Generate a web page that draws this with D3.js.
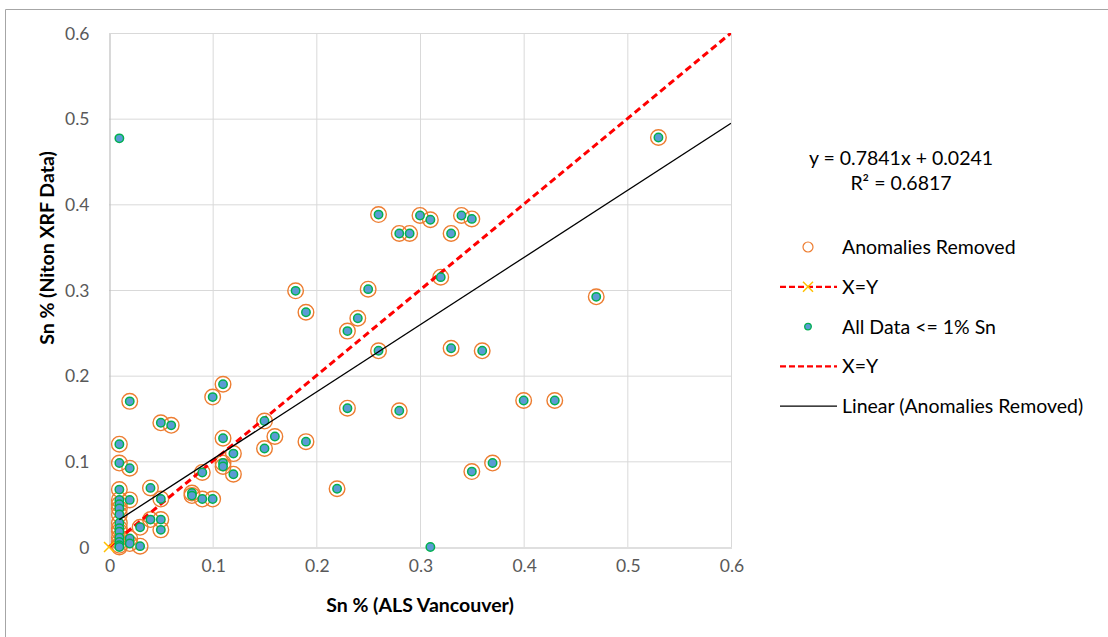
<!DOCTYPE html>
<html lang="en">
<head>
  <meta charset="UTF-8" />
  <title>Sn % ALS vs Niton XRF</title>
  <script src="https://d3js.org/d3.v7.min.js"></script>
  <style>
    body {
      margin: 0;
      background: #fff;
      font-family: Lato, "Open Sans", sans-serif;
      overflow: hidden;
    }
    .tick text {
      fill: #595959;
      font-size: 17.5px;
    }
    .grid line {
      stroke: #d9d9d9;
      stroke-width: 1;
    }
    .axis-title {
      font-size: 19.5px;
      font-weight: bold;
      fill: #000;
    }
    .legend text {
      font-size: 19.5px;
      fill: #000;
    }
  </style>
</head>
<body>
  <script>
    // Anomalies Removed series (x = ALS Vancouver, y = Niton XRF)
    const anomX = [
      0.53, 0.47, 0.40, 0.43, 0.37, 0.35, 0.36, 0.33, 0.32,
      0.26, 0.30, 0.31, 0.34, 0.35, 0.28, 0.29, 0.33,
      0.25, 0.24, 0.23, 0.26, 0.23, 0.28,
      0.18, 0.19, 0.11, 0.10, 0.15, 0.11, 0.16, 0.15, 0.19, 0.12, 0.22,
      0.02, 0.05, 0.06, 0.01, 0.01, 0.02, 0.11, 0.11, 0.12, 0.09,
      0.04, 0.05, 0.08, 0.08, 0.09, 0.10,
      0.01, 0.01, 0.02, 0.01, 0.01, 0.01, 0.04, 0.05, 0.05, 0.03,
      0.01, 0.01, 0.01, 0.01, 0.01, 0.01, 0.01, 0.02, 0.02, 0.03
    ];
    const anomY = [
      0.478, 0.292, 0.171, 0.171, 0.098, 0.088, 0.229, 0.232, 0.315,
      0.388, 0.387, 0.382, 0.387, 0.383, 0.366, 0.366, 0.366,
      0.301, 0.267, 0.252, 0.229, 0.162, 0.159,
      0.299, 0.274, 0.190, 0.175, 0.147, 0.127, 0.129, 0.115, 0.123, 0.109, 0.068,
      0.170, 0.145, 0.142, 0.120, 0.098, 0.092, 0.098, 0.094, 0.085, 0.087,
      0.069, 0.056, 0.063, 0.060, 0.056, 0.056,
      0.067, 0.055, 0.055, 0.050, 0.045, 0.038, 0.032, 0.032, 0.020, 0.023,
      0.028, 0.022, 0.018, 0.011, 0.006, 0.002, 0.000, 0.010, 0.004, 0.001
    ];
    // Points present only in "All Data <= 1% Sn"
    const outlierX = [0.01, 0.31];
    const outlierY = [0.477, 0.000];

    // X=Y reference line
    const xyX = [0, 1];
    const xyY = [0, 1];

    // Linear trendline of anomalies removed
    const trendSlope = 0.7841;
    const trendIntercept = 0.0241;
    const trendR2 = 0.6817;

    const ticks = [0, 0.1, 0.2, 0.3, 0.4, 0.5, 0.6];

    const width = 1108, height = 637;
    const plot = { left: 109, right: 731, top: 33, bottom: 547 };

    const svg = d3.select("body").append("svg")
      .attr("width", width)
      .attr("height", height);

    // chart frame (top and left edges visible)
    svg.append("path")
      .attr("d", `M5.5,${height + 2} V9.5 H${width + 2}`)
      .attr("fill", "none")
      .attr("stroke", "#a6a6a6")
      .attr("stroke-width", 1);

    const x = d3.scaleLinear().domain([0, 0.6]).range([plot.left, plot.right]);
    const y = d3.scaleLinear().domain([0, 0.6]).range([plot.bottom, plot.top]);

    svg.append("defs").append("clipPath").attr("id", "clip")
      .append("rect")
      .attr("x", plot.left - 10).attr("y", plot.top)
      .attr("width", plot.right - plot.left + 10)
      .attr("height", plot.bottom - plot.top + 10);

    // gridlines
    svg.append("g").attr("class", "grid")
      .selectAll("line.v").data(ticks.slice(1)).join("line")
      .attr("x1", d => x(d) + 0.5).attr("x2", d => x(d) + 0.5)
      .attr("y1", plot.top).attr("y2", plot.bottom);
    svg.append("g").attr("class", "grid")
      .selectAll("line.h").data(ticks.slice(1)).join("line")
      .attr("x1", plot.left).attr("x2", plot.right)
      .attr("y1", d => y(d) + 0.5).attr("y2", d => y(d) + 0.5);

    // axes
    const fmt = d => d === 0 ? "0" : d3.format(".1f")(d);
    const xAxis = svg.append("g")
      .attr("transform", `translate(0.5,${plot.bottom + 0.5})`)
      .call(d3.axisBottom(x).tickValues(ticks).tickSize(0).tickPadding(12).tickFormat(fmt));
    const yAxis = svg.append("g")
      .attr("transform", `translate(${plot.left + 0.5},0.5)`)
      .call(d3.axisLeft(y).tickValues(ticks).tickSize(0).tickPadding(20).tickFormat(fmt));
    [xAxis, yAxis].forEach(a => {
      a.select(".domain").attr("stroke", "#bfbfbf").attr("stroke-width", 1.2);
      a.selectAll(".tick text").attr("font-family", "Lato, sans-serif");
    });

    // axis titles
    svg.append("text").attr("class", "axis-title")
      .attr("x", (plot.left + plot.right) / 2).attr("y", 612)
      .attr("text-anchor", "middle")
      .text("Sn % (ALS Vancouver)");
    svg.append("text").attr("class", "axis-title")
      .attr("transform", `translate(54,${(plot.top + plot.bottom) / 2 - 42}) rotate(-90)`)
      .attr("text-anchor", "middle")
      .text("Sn % (Niton XRF Data)");

    const chart = svg.append("g").attr("clip-path", "url(#clip)");

    // anomalies removed: hollow orange circles
    const anom = anomX.map((v, i) => [v, anomY[i]]);
    const all = anom.concat(outlierX.map((v, i) => [v, outlierY[i]]));

    chart.selectAll("circle.anom").data(anom).join("circle")
      .attr("class", "anom")
      .attr("cx", d => x(d[0])).attr("cy", d => y(d[1]))
      .attr("r", 7.8)
      .attr("fill", "none")
      .attr("stroke", "#ed7d31")
      .attr("stroke-width", 1.4);

    // X=Y line with marker
    const line = d3.line().x(d => x(d[0])).y(d => y(d[1]));
    const xy = xyX.map((v, i) => [v, xyY[i]]);
    chart.append("path").datum(xy)
      .attr("d", line)
      .attr("fill", "none")
      .attr("stroke", "#ff0000")
      .attr("stroke-width", 3)
      .attr("stroke-dasharray", "7,4");
    chart.selectAll("path.xmark").data(xy).join("path")
      .attr("class", "xmark")
      .attr("transform", d => `translate(${x(d[0])},${y(d[1])})`)
      .attr("d", "M-5,-5L5,5M-5,5L5,-5")
      .attr("stroke", "#ffc000")
      .attr("stroke-width", 1.5);

    // all data points
    chart.selectAll("circle.all").data(all).join("circle")
      .attr("class", "all")
      .attr("cx", d => x(d[0])).attr("cy", d => y(d[1]))
      .attr("r", 4.2)
      .attr("fill", "#5b9bd5")
      .attr("stroke", "#00b050")
      .attr("stroke-width", 1.5);

    // linear trendline
    const trendX = [d3.min(anomX), 0.6];
    chart.append("path")
      .datum(trendX.map(v => [v, trendSlope * v + trendIntercept]))
      .attr("d", line)
      .attr("fill", "none")
      .attr("stroke", "#000")
      .attr("stroke-width", 1.3);

    // trendline equation
    const eq = svg.append("g").attr("class", "legend");
    eq.append("text").attr("x", 901).attr("y", 165).attr("text-anchor", "middle")
      .text(`y = ${trendSlope}x + ${trendIntercept}`);
    eq.append("text").attr("x", 901).attr("y", 190).attr("text-anchor", "middle")
      .text(`R² = ${trendR2}`);

    // legend
    const legendItems = [
      { label: "Anomalies Removed", type: "ring" },
      { label: "X=Y", type: "dashX" },
      { label: "All Data <= 1% Sn", type: "dot" },
      { label: "X=Y", type: "dash" },
      { label: "Linear (Anomalies Removed)", type: "solid" }
    ];
    const lg = svg.append("g").attr("class", "legend");
    const row = lg.selectAll("g").data(legendItems).join("g")
      .attr("transform", (d, i) => `translate(0,${247 + i * 39.8})`);
    row.each(function(d) {
      const r = d3.select(this);
      if (d.type === "ring") {
        r.append("circle").attr("cx", 808).attr("cy", 0).attr("r", 5)
          .attr("fill", "none").attr("stroke", "#ed7d31").attr("stroke-width", 1.2);
      } else if (d.type === "dot") {
        r.append("circle").attr("cx", 808).attr("cy", 0).attr("r", 3.3)
          .attr("fill", "#5b9bd5").attr("stroke", "#00b050").attr("stroke-width", 1.3);
      } else if (d.type === "solid") {
        r.append("line").attr("x1", 780).attr("x2", 837).attr("y1", 0).attr("y2", 0)
          .attr("stroke", "#000").attr("stroke-width", 1.2);
      } else {
        r.append("line").attr("x1", 780).attr("x2", 837).attr("y1", 0).attr("y2", 0)
          .attr("stroke", "#ff0000").attr("stroke-width", 2.2).attr("stroke-dasharray", "6,3");
        if (d.type === "dashX") {
          r.append("path").attr("transform", "translate(808,0)")
            .attr("d", "M-5,-5L5,5M-5,5L5,-5")
            .attr("stroke", "#ffc000").attr("stroke-width", 1.5);
        }
      }
      r.append("text").attr("x", 842).attr("y", 7).text(d.label);
    });
  </script>
</body>
</html>
